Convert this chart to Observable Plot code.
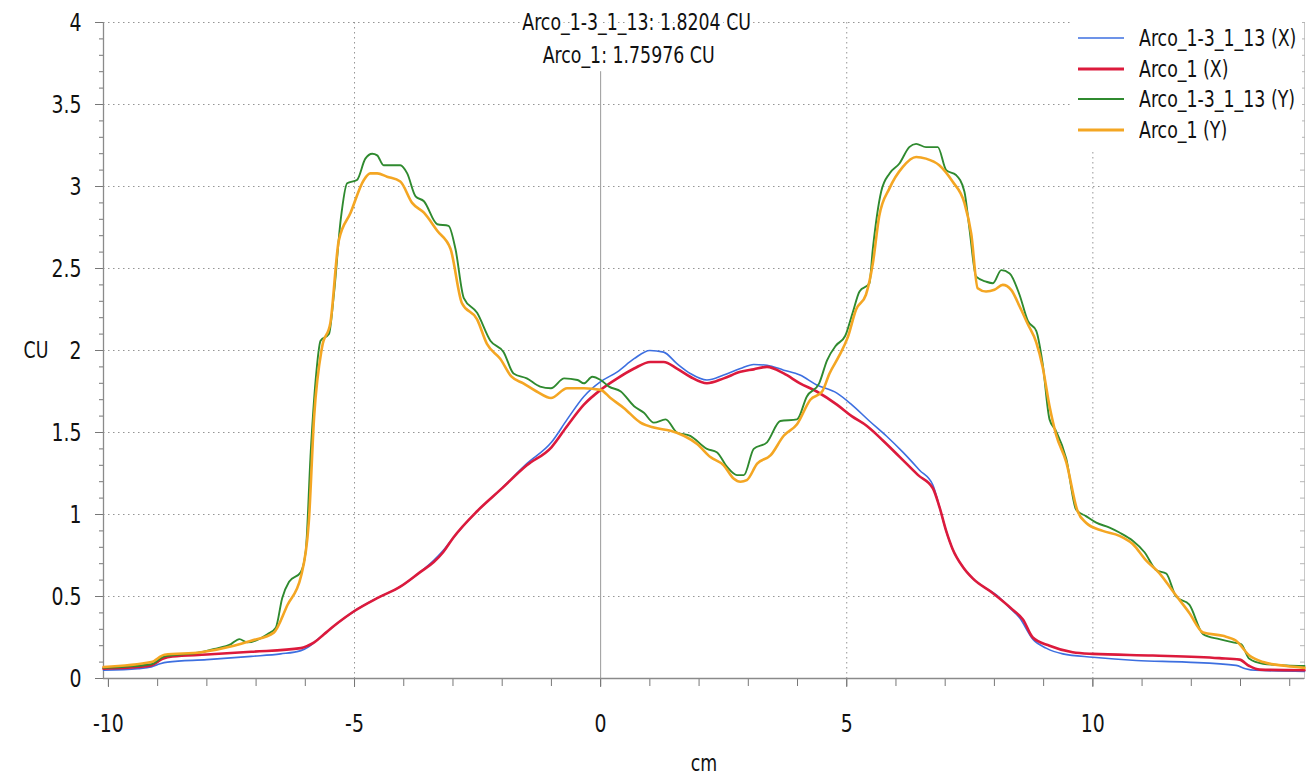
<!DOCTYPE html>
<html>
<head>
<meta charset="utf-8">
<script src="https://cdn.jsdelivr.net/npm/d3@7"></script>
<script src="https://cdn.jsdelivr.net/npm/@observablehq/plot@0.6"></script>
<style>
  html, body { margin: 0; padding: 0; background: #fff; }
  #wrap { position: relative; width: 1308px; height: 783px; font-family: "DejaVu Sans Condensed", "DejaVu Sans", sans-serif; }
  #legend { position: absolute; left: 1072px; top: 21px; width: 230px; background: #fff; padding: 2px 0 4px 0; }
  .row { display: flex; align-items: center; height: 30.5px; font-size: 23px; color: #111; white-space: nowrap; }
  .row svg { margin-left: 6px; margin-right: 15px; flex: none; }
  .row span { display: inline-block; transform: scaleX(0.84); transform-origin: left center; }
</style>
</head>
<body>
<div id="wrap"></div>
<script>
// ---------- data ----------
const seriesNames = ["Arco_1-3_1_13 (X)", "Arco_1 (X)", "Arco_1-3_1_13 (Y)", "Arco_1 (Y)"];
const seriesColors = ["#3d6fe0", "#dc1a3c", "#2f8a2f", "#f4a623"];
const seriesWidths = [1.6, 2.6, 1.9, 2.6];

const xBlue = [-10.1,-9.4,-9.13,-8.95,-8.8,-8.0,-7.1,-6.5,-6.09,-5.95,-5.82,-5.62,-5.42,-5.2,-5.01,-4.54,-4.07,-3.66,-3.39,-3.2,-2.99,-2.51,-2.04,-1.5,-1.0,-0.68,-0.34,0,0.34,0.68,1.0,1.28,1.55,1.82,2.16,2.5,2.84,3.11,3.38,3.72,4.05,4.39,4.8,5.1,5.46,5.8,6.14,6.48,6.75,6.88,7.02,7.15,7.36,7.56,7.83,8.04,8.31,8.51,8.78,9.05,9.39,10.0,10.88,11.9,12.91,13.1,13.3,14.3];
const yBlue = [0.05,0.06,0.07,0.09,0.10,0.115,0.135,0.15,0.17,0.19,0.22,0.27,0.32,0.37,0.41,0.49,0.56,0.65,0.72,0.78,0.86,1.02,1.15,1.31,1.44,1.58,1.72,1.81,1.87,1.95,2.0,1.99,1.92,1.86,1.82,1.85,1.89,1.915,1.91,1.88,1.85,1.79,1.74,1.67,1.57,1.48,1.38,1.27,1.18,1.05,0.90,0.79,0.68,0.61,0.55,0.51,0.43,0.37,0.24,0.185,0.15,0.13,0.11,0.10,0.08,0.06,0.05,0.043];

const xRed = [-10.1,-9.4,-9.13,-8.9,-8.7,-8.0,-7.1,-6.09,-5.95,-5.82,-5.62,-5.42,-5.2,-5.01,-4.54,-4.07,-3.66,-3.39,-3.2,-2.99,-2.51,-2.04,-1.5,-1.0,-0.68,-0.34,0,0.34,0.68,1.01,1.28,1.55,1.82,2.16,2.5,2.84,3.11,3.38,3.72,4.05,4.39,4.8,5.1,5.41,5.74,6.08,6.45,6.75,6.88,7.02,7.15,7.36,7.56,7.97,8.37,8.58,8.78,9.12,9.59,10.0,11.22,12.57,12.98,13.18,13.39,14.3];
const yRed = [0.06,0.07,0.08,0.12,0.135,0.146,0.163,0.185,0.20,0.22,0.27,0.32,0.37,0.41,0.49,0.56,0.65,0.71,0.77,0.86,1.02,1.15,1.30,1.41,1.54,1.67,1.76,1.83,1.89,1.93,1.93,1.89,1.84,1.80,1.83,1.87,1.885,1.90,1.86,1.80,1.75,1.67,1.60,1.54,1.45,1.35,1.24,1.16,1.05,0.90,0.79,0.68,0.61,0.52,0.42,0.36,0.25,0.20,0.16,0.15,0.14,0.124,0.115,0.076,0.054,0.05];

const xGreen = [-10.1,-9.13,-8.86,-8.12,-7.85,-7.51,-7.34,-7.18,-6.77,-6.6,-6.47,-6.33,-6.09,-5.99,-5.89,-5.79,-5.69,-5.52,-5.42,-5.28,-5.15,-4.95,-4.78,-4.64,-4.54,-4.41,-4.07,-3.93,-3.76,-3.59,-3.32,-3.09,-2.95,-2.78,-2.51,-2.24,-1.97,-1.77,-1.5,-1.23,-1.01,-0.74,-0.47,-0.34,-0.17,0,0.17,0.41,0.68,0.88,1.08,1.32,1.55,1.82,2.16,2.36,2.57,2.77,2.91,3.11,3.38,3.65,3.99,4.19,4.44,4.6,4.78,4.97,5.12,5.26,5.46,5.53,5.7,5.87,6.07,6.27,6.41,6.61,6.85,7.02,7.22,7.39,7.49,7.63,7.83,7.97,8.14,8.31,8.51,8.68,8.85,8.98,9.12,9.25,9.46,9.66,9.86,10.07,10.34,10.54,10.81,11.05,11.29,11.49,11.69,11.96,12.24,12.57,12.85,13.01,13.18,13.46,13.93,14.3];
const yGreen = [0.065,0.087,0.135,0.16,0.18,0.21,0.24,0.22,0.27,0.31,0.49,0.59,0.65,0.78,1.38,1.82,2.06,2.10,2.34,2.80,3.02,3.04,3.17,3.20,3.19,3.13,3.13,3.08,2.94,2.91,2.77,2.76,2.62,2.32,2.23,2.06,1.99,1.86,1.83,1.78,1.77,1.83,1.82,1.80,1.84,1.82,1.78,1.75,1.66,1.62,1.56,1.58,1.50,1.48,1.40,1.38,1.29,1.24,1.24,1.40,1.44,1.57,1.58,1.72,1.80,1.94,2.03,2.09,2.23,2.36,2.41,2.62,2.97,3.08,3.14,3.24,3.26,3.24,3.24,3.10,3.07,2.97,2.75,2.45,2.42,2.41,2.49,2.47,2.34,2.18,2.12,1.92,1.58,1.51,1.34,1.03,0.99,0.95,0.92,0.89,0.84,0.77,0.66,0.64,0.50,0.45,0.27,0.24,0.22,0.21,0.12,0.09,0.08,0.076];

const xOrange = [-10.1,-9.13,-8.86,-8.12,-7.45,-7.1,-6.64,-6.36,-6.09,-5.93,-5.82,-5.66,-5.49,-5.32,-5.08,-4.81,-4.68,-4.54,-4.34,-4.07,-3.83,-3.59,-3.32,-3.05,-2.82,-2.51,-2.31,-2.04,-1.81,-1.57,-1.3,-1.01,-0.68,-0.34,0,0.2,0.47,0.81,1.08,1.42,1.69,1.96,2.23,2.5,2.7,2.84,2.97,3.18,3.45,3.72,3.99,4.26,4.5,4.65,4.85,5.02,5.19,5.39,5.53,5.66,5.87,6.14,6.41,6.61,6.88,7.15,7.39,7.53,7.66,7.83,8.0,8.17,8.34,8.51,8.68,8.85,8.98,9.12,9.25,9.46,9.69,9.86,10.2,10.54,10.81,11.08,11.36,11.63,11.96,12.24,12.64,12.91,13.18,13.46,13.93,14.3];
const yOrange = [0.07,0.10,0.145,0.16,0.20,0.23,0.28,0.45,0.62,0.95,1.6,2.02,2.17,2.67,2.84,3.04,3.08,3.08,3.06,3.03,2.90,2.84,2.73,2.62,2.29,2.19,2.04,1.95,1.84,1.80,1.75,1.71,1.77,1.77,1.76,1.71,1.65,1.56,1.53,1.51,1.48,1.43,1.35,1.30,1.22,1.20,1.21,1.31,1.36,1.48,1.55,1.70,1.75,1.86,1.97,2.08,2.25,2.34,2.53,2.82,2.99,3.12,3.18,3.17,3.13,3.03,2.90,2.71,2.38,2.36,2.37,2.40,2.37,2.27,2.16,2.05,1.90,1.66,1.49,1.32,1.02,0.95,0.90,0.87,0.82,0.72,0.64,0.53,0.40,0.28,0.26,0.23,0.14,0.10,0.076,0.065];

const xDomain = [-10.1, 14.3];
const yDomain = [0, 4];
const yMajorTicks = [0, 0.5, 1, 1.5, 2, 2.5, 3, 3.5, 4];
const yMinorTicks = d3.range(0, 41).map(i => i / 10);
const xMajorTicks = [-10, -5, 0, 5, 10];
const xMinorTicks = d3.range(-10, 15);
const xGridTicks = [-5, 5, 10];
const yGridTicks = [0.5, 1, 1.5, 2, 2.5, 3, 3.5, 4];
const cursorX = 0;
const cursorTop = 3.7;
const cursorLabels = ["Arco_1-3_1_13: 1.8204 CU", "Arco_1: 1.75976 CU"];
const xLabel = "cm";
const yLabel = "CU";

// ---------- build ----------
const xs = [xBlue, xRed, xGreen, xOrange];
const ys = [yBlue, yRed, yGreen, yOrange];
const table = [];
seriesNames.forEach((name, i) => xs[i].forEach((x, j) => table.push({series: name, x, y: ys[i][j]})));

const FONT = '"DejaVu Sans Condensed", "DejaVu Sans", sans-serif';
const fmt = d => String(d);

const chart = Plot.plot({
  width: 1308,
  height: 783,
  marginLeft: 103,
  marginRight: 4,
  marginTop: 22,
  marginBottom: 105,
  style: {fontFamily: FONT, background: "#fff", color: "#111"},
  x: {domain: xDomain},
  y: {domain: yDomain},
  marks: [
    Plot.gridY(yGridTicks, {stroke: "#8a8a8a", strokeOpacity: 0.9, strokeDasharray: "1.5,3.5"}),
    Plot.gridX(xGridTicks, {stroke: "#8a8a8a", strokeOpacity: 0.9, strokeDasharray: "1.5,3.5"}),
    Plot.ruleX([cursorX], {y1: 0, y2: cursorTop, stroke: "#9a9a9a", strokeWidth: 1}),
    Plot.ruleX([xDomain[1]], {stroke: "#c8c8c8"}),
    Plot.axisY(yMinorTicks, {anchor: "right", tickSize: 5, dx: -5, text: null, label: null, stroke: "#b5b5b5"}),
    Plot.axisY(yMinorTicks, {tickSize: 4, text: null, label: null, stroke: "#777"}),
    Plot.axisY(yMajorTicks, {tickSize: 8, tickPadding: 14, tickFormat: fmt, fontSize: 25, label: null, stroke: "#777"}),
    Plot.axisX(xMinorTicks, {tickSize: 8, text: null, label: null, stroke: "#777"}),
    Plot.axisX(xMajorTicks, {tickSize: 9, tickPadding: 27, tickFormat: fmt, fontSize: 25, label: null, stroke: "#777"}),
    Plot.ruleY([yDomain[0]], {stroke: "#8a8a8a", strokeWidth: 1.3}),
    Plot.ruleX([xDomain[0]], {stroke: "#8a8a8a", strokeWidth: 1.3}),
    ...seriesNames.map((name, i) => Plot.line(table.filter(d => d.series === name), {
      x: "x", y: "y", stroke: seriesColors[i], strokeWidth: seriesWidths[i], curve: "monotone-x"
    })),
    Plot.text([cursorLabels[0]], {x: cursorX, y: yDomain[1], dx: 36, fontSize: 23, fill: "#111", stroke: "#fff", strokeWidth: 8}),
    Plot.text([cursorLabels[1]], {x: cursorX, y: yDomain[1], dx: 28, dy: 33, fontSize: 23, fill: "#111"}),
    Plot.text([yLabel], {frameAnchor: "left", dx: -80, fontSize: 23, fill: "#111"}),
    Plot.text([xLabel], {frameAnchor: "bottom", dy: 92, fontSize: 23, fill: "#111"})
  ]
});

// narrow the glyphs horizontally, around each text's own anchor
chart.querySelectorAll("text").forEach(t => {
  const tr = t.getAttribute("transform");
  if (tr && tr.includes("translate")) {
    t.setAttribute("transform", tr + " scale(0.84,1)");
  } else {
    const x = +(t.getAttribute("x") || 0), y = +(t.getAttribute("y") || 0);
    t.removeAttribute("x"); t.removeAttribute("y");
    t.setAttribute("transform", `${tr || ""} translate(${x},${y}) scale(0.84,1)`);
  }
});

const wrap = document.getElementById("wrap");
wrap.appendChild(chart);

const legend = document.createElement("div");
legend.id = "legend";
seriesNames.forEach((name, i) => {
  const row = document.createElement("div");
  row.className = "row";
  row.innerHTML = `<svg width="46" height="6"><line x1="0" x2="46" y1="3" y2="3" stroke="${seriesColors[i]}" stroke-width="${seriesWidths[i] + (i % 2 ? 0.6 : 0)}"/></svg><span>${name}</span>`;
  legend.appendChild(row);
});
wrap.appendChild(legend);
</script>
</body>
</html>
